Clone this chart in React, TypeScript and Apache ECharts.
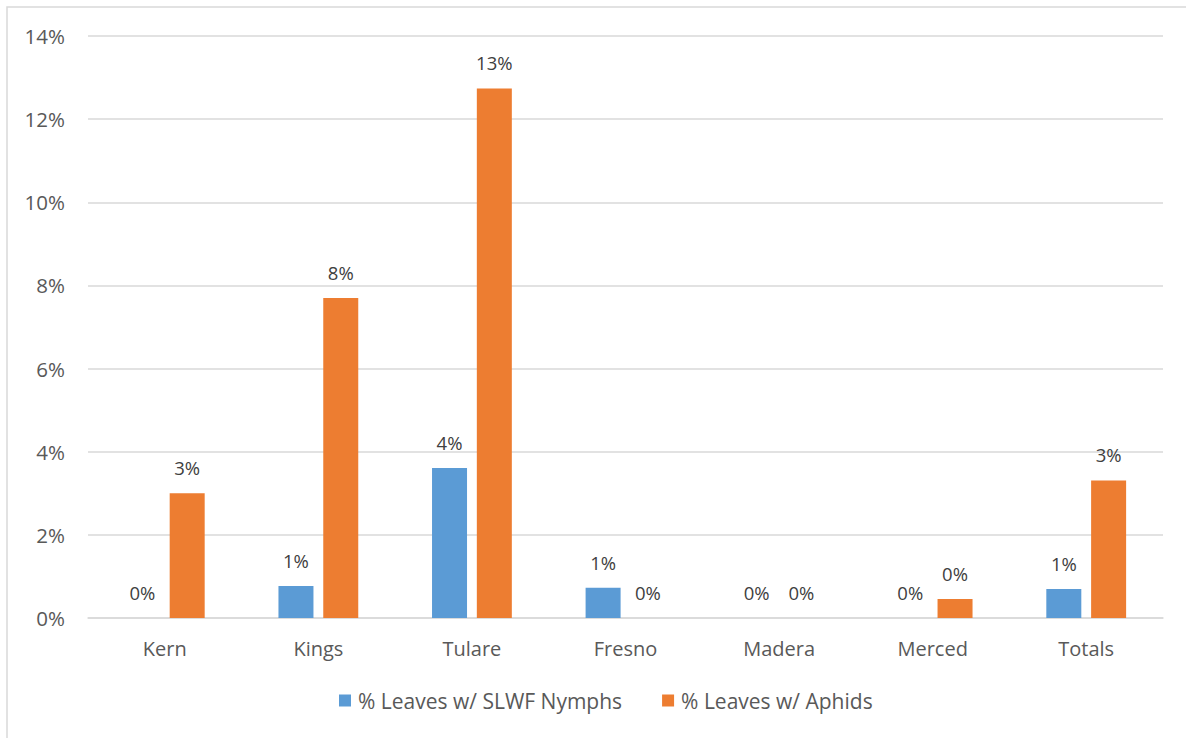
import React, { useEffect, useRef } from "react";
import * as echarts from "echarts";

const categories = ["Kern", "Kings", "Tulare", "Fresno", "Madera", "Merced", "Totals"];
const slwfNymphs = [0, 0.0077, 0.0361, 0.0073, 0, 0, 0.007];
const aphids = [0.03, 0.077, 0.1274, 0, 0, 0.0046, 0.0331];
const seriesNames = ["% Leaves w/ SLWF Nymphs", "% Leaves w/ Aphids"];

const FONT = "'Open Sans', sans-serif";

export default function App() {
  const ref = useRef<HTMLDivElement>(null);
  useEffect(() => {
    document.body.style.margin = "0";
    const chart = echarts.init(ref.current!, null, { renderer: "svg" });
    const pct = (v: number) => Math.round(v * 100) + "%";
    const label = {
      show: true,
      position: "top" as const,
      distance: 16,
      color: "#404040",
      fontFamily: FONT,
      fontSize: 18.5,
      formatter: (p: any) => pct(p.value),
    };
    chart.setOption({
      animation: false,
      backgroundColor: "#ffffff",
      textStyle: { fontFamily: FONT },
      graphic: [
        {
          type: "rect",
          shape: { x: 7, y: 7, width: 1250, height: 800 },
          style: { fill: "none", stroke: "#d9d9d9", lineWidth: 1.5 },
          silent: true,
        },
      ],
      grid: { left: 88, right: 23, top: 36, bottom: 120, containLabel: false },
      legend: {
        bottom: 22,
        left: 334,
        itemWidth: 12,
        itemHeight: 12,
        itemGap: 40,
        icon: "rect",
        textStyle: { color: "#595959", fontSize: 21, fontFamily: FONT, padding: [0, 0, 0, 2] },
        data: seriesNames,
      },
      xAxis: {
        type: "category",
        data: categories,
        axisLine: { lineStyle: { color: "#d9d9d9", width: 1.5 } },
        axisTick: { show: false },
        axisLabel: { color: "#595959", fontSize: 20, fontFamily: FONT, margin: 20 },
      },
      yAxis: {
        type: "value",
        min: 0,
        max: 0.14,
        interval: 0.02,
        axisLine: { show: false },
        axisTick: { show: false },
        splitLine: { lineStyle: { color: "#d9d9d9", width: 1.5 } },
        axisLabel: {
          color: "#595959",
          fontSize: 20.5,
          fontFamily: FONT,
          margin: 23,
          formatter: (v: number) => pct(v),
        },
      },
      series: [
        {
          name: seriesNames[0],
          type: "bar",
          data: slwfNymphs,
          barWidth: 35,
          barGap: "28%",
          itemStyle: { color: "#5B9BD5" },
          label,
        },
        {
          name: seriesNames[1],
          type: "bar",
          data: aphids,
          barWidth: 35,
          barGap: "28%",
          itemStyle: { color: "#ED7D31" },
          label,
        },
      ],
    });
    return () => chart.dispose();
  }, []);
  return <div ref={ref} style={{ width: 1186, height: 738 }} />;
}
